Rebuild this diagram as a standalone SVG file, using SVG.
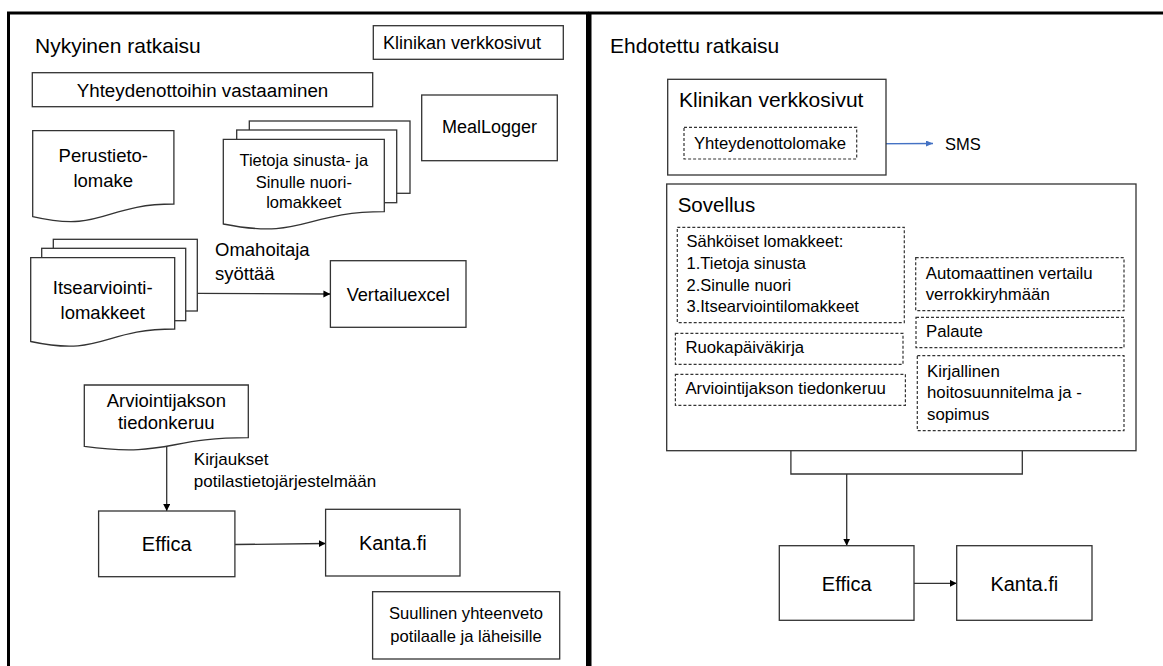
<svg xmlns="http://www.w3.org/2000/svg" width="1163" height="666" viewBox="0 0 1163 666">
<style>
  text { font-family: "Liberation Sans", Arial, sans-serif; fill: #000; }
  .box { fill: #fff; stroke: #333; stroke-width: 1.3; }
  .dash { fill: #fff; stroke: #333; stroke-width: 1.2; stroke-dasharray: 3 2; }
  .panel { fill: none; stroke: #000; stroke-width: 3; }
  .conn { fill: none; stroke: #333; stroke-width: 1.3; }
  .blue { fill: none; stroke: #4472C4; stroke-width: 1.3; }
  .c { text-anchor: middle; }
  .t20 { font-size: 20px; }
  .title { font-size: 21px; }
  .t18 { font-size: 18.5px; }
  .t17 { font-size: 16.7px; }
</style>
<defs>
  <marker id="ah" markerUnits="userSpaceOnUse" markerWidth="8" markerHeight="8" refX="7" refY="3.5" orient="auto">
    <path d="M0,0 L7,3.5 L0,7 Z" fill="#000"/>
  </marker>
  <marker id="ahb" markerUnits="userSpaceOnUse" markerWidth="8" markerHeight="8" refX="7" refY="3" orient="auto">
    <path d="M0,0 L7,3 L0,6 Z" fill="#4472C4"/>
  </marker>
</defs>

<rect width="1163" height="666" fill="#fff"/>

<g id="panel-left">
  <rect class="panel" x="8.5" y="13" width="579" height="720"/>
  <text class="title" x="35" y="53.3">Nykyinen ratkaisu</text>
</g>
<g id="panel-right">
  <rect class="panel" x="590" y="13" width="620" height="720" stroke-width="2.5"/>
  <text class="title" x="610" y="52.5">Ehdotettu ratkaisu</text>
</g>

<g id="connectors">
  <line class="conn" x1="197.3" y1="293.3" x2="330.4" y2="294" marker-end="url(#ah)"/>
  <line class="conn" x1="166.7" y1="445" x2="166.7" y2="511" marker-end="url(#ah)"/>
  <line class="conn" x1="234.9" y1="544.5" x2="325.6" y2="543.5" marker-end="url(#ah)"/>
  <line class="blue" x1="856.7" y1="143.8" x2="933" y2="143.5" marker-end="url(#ahb)"/>
  <polyline class="conn" points="790.9,405.3 790.9,474 1022.3,474 1022.3,430.7"/>
  <line class="conn" x1="846.7" y1="474" x2="846.7" y2="545.7" marker-end="url(#ah)"/>
  <line class="conn" x1="914" y1="583.3" x2="956.7" y2="583.3" marker-end="url(#ah)"/>
</g>

<g id="left-klinikan">
  <rect class="box" x="373.3" y="25.7" width="190" height="33.6"/>
  <text x="383" y="49.3" style="font-size:18px">Klinikan verkkosivut</text>
</g>
<g id="yhteydenotto">
  <rect class="box" x="32.3" y="72.7" width="340.4" height="34"/>
  <text class="c" x="202.5" y="96.7" style="font-size:18.8px">Yhteydenottoihin vastaaminen</text>
</g>
<g id="meallogger">
  <rect class="box" x="421.7" y="95" width="135.6" height="65.7"/>
  <text class="c" x="489.5" y="133.3" style="font-size:18px">MealLogger</text>
</g>
<g id="perustieto">
  <path class="box" d="M32.7,130.7 H173.9 V204 C103.3,204 103.3,232.9 32.7,216.6 Z"/>
  <text class="t18 c" x="103.3" y="162">Perustieto-</text>
  <text class="t18 c" x="103.3" y="186.7">lomake</text>
</g>
<g id="tietoja">
  <rect class="box" x="249.3" y="121" width="160.7" height="72.3"/>
  <rect class="box" x="236.7" y="130" width="160" height="72.7"/>
  <path class="box" d="M223.3,139.3 H384.3 V211.7 C303.8,211.7 303.8,240 223.3,224 Z"/>
  <text class="c" x="303.8" y="166" style="font-size:16.5px">Tietoja sinusta- ja</text>
  <text class="c" x="303.8" y="187.5" style="font-size:16.5px">Sinulle nuori-</text>
  <text class="c" x="303.8" y="208.3" style="font-size:16.5px">lomakkeet</text>
</g>
<g id="itsearviointi">
  <rect class="box" x="53.3" y="239.3" width="144" height="71.7"/>
  <rect class="box" x="41.7" y="248.3" width="144" height="72.4"/>
  <path class="box" d="M30.7,257.7 H174.7 V329 C102.7,329 102.7,357 30.7,341.5 Z"/>
  <text class="t18 c" x="102.7" y="294.3">Itsearviointi-</text>
  <text class="t18 c" x="102.7" y="319.3">lomakkeet</text>
</g>
<g id="omahoitaja-label">
  <text class="t18" x="215" y="256">Omahoitaja</text>
  <text class="t18" x="215" y="280">syöttää</text>
</g>
<g id="vertailuexcel">
  <rect class="box" x="330.4" y="260.7" width="135.6" height="66.6"/>
  <text class="c" x="398.2" y="301" style="font-size:18.2px">Vertailuexcel</text>
</g>
<g id="arviointijakson-left">
  <path class="box" d="M84.3,385 H248.3 V437.7 C166.3,437.7 166.3,457.8 84.3,446.4 Z"/>
  <text class="t18 c" x="166.3" y="406.7">Arviointijakson</text>
  <text class="t18 c" x="166.3" y="429.3">tiedonkeruu</text>
</g>
<g id="kirjaukset-label">
  <text x="193.8" y="465" style="font-size:17px">Kirjaukset</text>
  <text x="193.8" y="486.7" style="font-size:17px">potilastietojärjestelmään</text>
</g>
<g id="effica-left">
  <rect class="box" x="98.6" y="511" width="136.3" height="65.7"/>
  <text class="t20 c" x="166.7" y="551">Effica</text>
</g>
<g id="kanta-left">
  <rect class="box" x="325.6" y="509.3" width="134.4" height="66.7"/>
  <text class="t20 c" x="392.8" y="550">Kanta.fi</text>
</g>
<g id="suullinen">
  <rect class="box" x="372.6" y="591.7" width="187.1" height="67.3"/>
  <text class="c" x="466" y="619" style="font-size:16.6px">Suullinen yhteenveto</text>
  <text class="c" x="466" y="641.7" style="font-size:16.6px">potilaalle ja läheisille</text>
</g>

<g id="right-klinikan">
  <rect class="box" x="667.7" y="79.3" width="218.3" height="95.7"/>
  <text x="679" y="106.7" style="font-size:21px">Klinikan verkkosivut</text>
</g>
<g id="yhteydenottolomake">
  <rect class="dash" x="684" y="127.3" width="172.7" height="31.7"/>
  <text class="t17 c" x="770" y="149.3">Yhteydenottolomake</text>
</g>
<g id="sms">
  <text x="945" y="149.5" style="font-size:16.5px">SMS</text>
</g>
<g id="sovellus">
  <rect class="box" x="666.7" y="184" width="469.3" height="266.7"/>
  <text x="677.7" y="212.3" style="font-size:20.5px">Sovellus</text>
</g>
<g id="sahkoiset">
  <rect class="dash" x="677.3" y="227.3" width="227" height="95.4"/>
  <text x="686.5" y="247.3" style="font-size:16.5px">Sähköiset lomakkeet:</text>
  <text x="686.5" y="269" style="font-size:16.5px">1.Tietoja sinusta</text>
  <text x="686.5" y="290.7" style="font-size:16.5px">2.Sinulle nuori</text>
  <text x="686.5" y="312.3" style="font-size:16.5px">3.Itsearviointilomakkeet</text>
</g>
<g id="ruokapaivakirja">
  <rect class="dash" x="675.4" y="333.3" width="227.6" height="31"/>
  <text x="685.4" y="352.7" style="font-size:16.7px">Ruokapäiväkirja</text>
</g>
<g id="arviointijakson-right">
  <rect class="dash" x="675.4" y="374.3" width="230" height="31"/>
  <text x="685.4" y="394" style="font-size:16.8px">Arviointijakson tiedonkeruu</text>
</g>
<g id="automaattinen">
  <rect class="dash" x="915.7" y="257.7" width="208.3" height="53"/>
  <text x="925.7" y="279" style="font-size:16.8px">Automaattinen vertailu</text>
  <text x="925.7" y="300" style="font-size:16.8px">verrokkiryhmään</text>
</g>
<g id="palaute">
  <rect class="dash" x="916" y="317.3" width="208" height="30.4"/>
  <text x="926" y="336.7" style="font-size:16.8px">Palaute</text>
</g>
<g id="kirjallinen">
  <rect class="dash" x="917.3" y="355.7" width="206.7" height="75"/>
  <text x="927" y="376.7" style="font-size:16.8px">Kirjallinen</text>
  <text x="927" y="398.3" style="font-size:16.8px">hoitosuunnitelma ja -</text>
  <text x="927" y="420" style="font-size:16.8px">sopimus</text>
</g>
<g id="effica-right">
  <rect class="box" x="779.3" y="545.7" width="134.7" height="74.6"/>
  <text class="t20 c" x="846.7" y="590.7">Effica</text>
</g>
<g id="kanta-right">
  <rect class="box" x="956.7" y="545.7" width="135.3" height="74.6"/>
  <text class="t20 c" x="1024.3" y="590.7">Kanta.fi</text>
</g>
</svg>
